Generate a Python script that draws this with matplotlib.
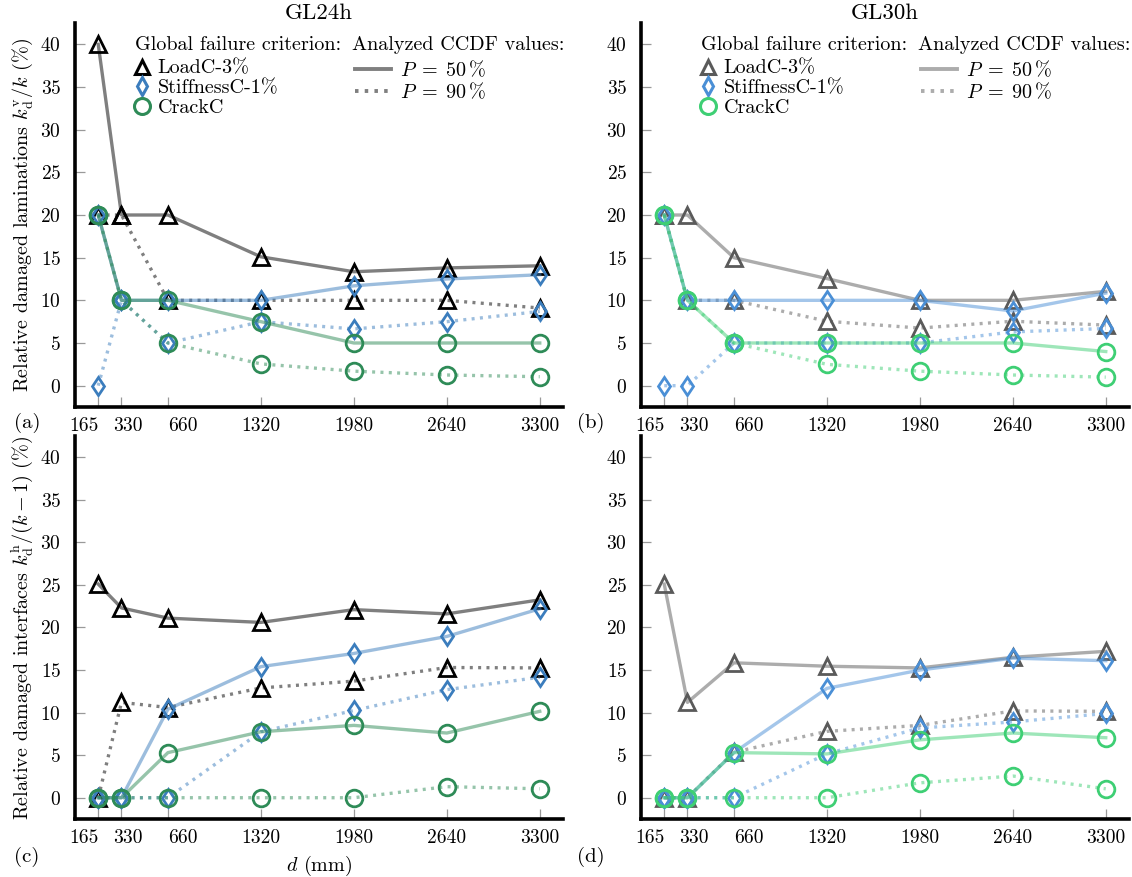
import numpy as np
import matplotlib
matplotlib.use("Agg")
import matplotlib.pyplot as plt
from matplotlib.lines import Line2D
from matplotlib.colors import to_rgba
from matplotlib.transforms import ScaledTranslation

plt.rcParams['font.family'] = ['cmr10', 'DejaVu Serif']
plt.rcParams['mathtext.fontset'] = 'cm'
plt.rcParams['axes.formatter.use_mathtext'] = True
plt.rcParams['axes.unicode_minus'] = False

# Daten
d = [165, 330, 660, 1320, 1980, 2640, 3300]
d_labels = ['165', '330', '660', '1320', '1980', '2640', '3300']

# GL24h, laminations
a_load_50 = [40, 20, 20, 15.1, 13.35, 13.8, 14.05]
a_load_90 = [20, 20, 10, 10, 10, 10, 9.1]
a_stiff_50 = [20, 10, 10, 10, 11.7, 12.5, 13.0]
a_stiff_90 = [0, 10, 5, 7.5, 6.65, 7.5, 8.7]
a_crack_50 = [20, 10, 10, 7.5, 5, 5, 5]
a_crack_90 = [20, 10, 5, 2.55, 1.7, 1.25, 1.05]

# GL30h, laminations
b_load_50 = [20, 20, 15, 12.55, 10, 10, 11.05]
b_load_90 = [20, 10, 10, 7.55, 6.75, 7.55, 7.1]
b_stiff_50 = [20, 10, 10, 10, 10, 8.75, 10.85]
b_stiff_90 = [0, 0, 5, 5, 5, 6.3, 6.7]
b_crack_50 = [20, 10, 5, 5, 5, 5, 4.0]
b_crack_90 = [20, 10, 5, 2.5, 1.7, 1.25, 1.0]

# GL24h, interfaces
c_load_50 = [25.1, 22.3, 21.1, 20.6, 22.1, 21.6, 23.25]
c_load_90 = [0, 11.2, 10.6, 12.9, 13.7, 15.3, 15.25]
c_stiff_50 = [0, 0, 10.4, 15.4, 16.95, 18.95, 22.2]
c_stiff_90 = [0, 0, 0, 7.75, 10.25, 12.7, 14.15]
c_crack_50 = [0, 0, 5.3, 7.75, 8.5, 7.6, 10.15]
c_crack_90 = [0, 0, 0, 0, 0, 1.3, 1.05]

# GL30h, interfaces
d_load_50 = [25.1, 11.2, 15.85, 15.45, 15.25, 16.5, 17.2]
d_load_90 = [0, 0, 5.35, 7.8, 8.5, 10.2, 10.15]
d_stiff_50 = [0, 0, 5.3, 12.85, 15.0, 16.4, 16.1]
d_stiff_90 = [0, 0, 0, 5.15, 8.2, 8.9, 9.9]
d_crack_50 = [0, 0, 5.3, 5.15, 6.8, 7.6, 7.05]
d_crack_90 = [0, 0, 0, 0, 1.75, 2.55, 1.05]

colors_24 = {'load': '#000000', 'stiff': '#3b7dbd', 'crack': '#2e8b57'}
colors_30 = {'load': '#5a5a5a', 'stiff': '#4a8fd6', 'crack': '#3ecf74'}
markers = {'load': ('^', 11), 'stiff': ('d', 9.5), 'crack': ('o', 12)}
dotted = (0, (0.9, 1.6))
fs = 14.5

fig = plt.figure(figsize=(11.32, 8.77), dpi=100)
W, H = 1132, 877

def make_ax(l, r, t, b):
    return fig.add_axes([l / W, 1 - b / H, (r - l) / W, (b - t) / H])

ax_a = make_ax(75, 563, 23, 407)
ax_b = make_ax(641, 1129, 23, 407)
ax_c = make_ax(75, 563, 436, 819)
ax_d = make_ax(641, 1129, 436, 819)

panels = [
    (ax_a, colors_24, a_load_50, a_load_90, a_stiff_50, a_stiff_90, a_crack_50, a_crack_90),
    (ax_b, colors_30, b_load_50, b_load_90, b_stiff_50, b_stiff_90, b_crack_50, b_crack_90),
    (ax_c, colors_24, c_load_50, c_load_90, c_stiff_50, c_stiff_90, c_crack_50, c_crack_90),
    (ax_d, colors_30, d_load_50, d_load_90, d_stiff_50, d_stiff_90, d_crack_50, d_crack_90),
]

def draw(ax, col, key, y, ls):
    m, ms = markers[key]
    ax.plot(d, y, ls=ls, lw=2.4, color=to_rgba(col[key], 0.5),
            marker=m, ms=ms, mfc='none', mec=col[key], mew=2.0,
            dash_capstyle='butt', clip_on=False)

for ax, col, l50, l90, s50, s90, c50, c90 in panels:
    draw(ax, col, 'load', l50, '-')
    draw(ax, col, 'load', l90, dotted)
    draw(ax, col, 'stiff', s50, '-')
    draw(ax, col, 'stiff', s90, dotted)
    draw(ax, col, 'crack', c50, '-')
    draw(ax, col, 'crack', c90, dotted)

    ax.set_xlim(0, 3465)
    ax.set_ylim(-2.5, 42.5)
    ax.set_yticks(range(0, 45, 5))
    ax.set_xticks(d)
    ax.set_xticklabels(d_labels)
    for s in ['top', 'right']:
        ax.spines[s].set_visible(False)
    for s in ['left', 'bottom']:
        ax.spines[s].set_linewidth(2.6)
        ax.spines[s].set_color('black')
    ax.tick_params(direction='in', length=7, width=0.9, color='#999999',
                   labelsize=14, pad=7)
    ax.tick_params(axis='y', pad=10)
    # etwas verschobene Labels fuer die kleinen d-Werte
    lbls = ax.get_xticklabels()
    lbls[0].set_horizontalalignment('right')
    lbls[1].set_transform(lbls[1].get_transform() + ScaledTranslation(0.06, 0, fig.dpi_scale_trans))
    lbls[2].set_horizontalalignment('left')

ax_a.set_ylabel(r'Relative damaged laminations $k_\mathrm{d}^\mathrm{v}/k$ (%)', fontsize=fs, labelpad=4)
ax_c.set_ylabel(r'Relative damaged interfaces $k_\mathrm{d}^\mathrm{h}/(k-1)$ (%)', fontsize=fs, labelpad=4)
ax_c.set_xlabel(r'$d$ (mm)', fontsize=fs, labelpad=5)
ax_a.set_title('GL24h', fontsize=16.5, pad=2)
ax_b.set_title('GL30h', fontsize=16.5, pad=2)

fig.text(14 / W, 1 - 423 / H, '(a)', fontsize=15, va='center')
fig.text(577 / W, 1 - 423 / H, '(b)', fontsize=15, va='center')
fig.text(14 / W, 1 - 857 / H, '(c)', fontsize=15, va='center')
fig.text(577 / W, 1 - 857 / H, '(d)', fontsize=15, va='center')

# Legenden
for ax, col in [(ax_a, colors_24), (ax_b, colors_30)]:
    mh = [Line2D([], [], ls='none', marker=markers[k][0], ms=markers[k][1] - 0.5,
                 mfc='none', mec=col[k], mew=2.2) for k in ['load', 'stiff', 'crack']]
    leg1 = ax.legend(mh, ['LoadC-3%', 'StiffnessC-1%', 'CrackC'], loc='upper left',
                     bbox_to_anchor=(0.118, 0.905), frameon=False, fontsize=fs,
                     handlelength=0.9, handletextpad=0.35, labelspacing=0.09,
                     borderpad=0, borderaxespad=0)
    ax.add_artist(leg1)
    lh = [Line2D([], [], color=to_rgba(col['load'], 0.5), lw=2.8, ls='-'),
          Line2D([], [], color=to_rgba(col['load'], 0.5), lw=2.8, ls=dotted)]
    ax.legend(lh, [r'$P \;=\; 50\,\%$', r'$P \;=\; 90\,\%$'], loc='upper left',
              bbox_to_anchor=(0.573, 0.905), frameon=False, fontsize=fs,
              handlelength=1.8, handletextpad=0.45, labelspacing=0.09,
              borderpad=0, borderaxespad=0)
    ax.text(0.122, 0.943, 'Global failure criterion:', transform=ax.transAxes,
            fontsize=fs, va='center', ha='left')
    ax.text(0.568, 0.943, 'Analyzed CCDF values:', transform=ax.transAxes,
            fontsize=fs, va='center', ha='left')

plt.savefig('out.png', dpi=100)
